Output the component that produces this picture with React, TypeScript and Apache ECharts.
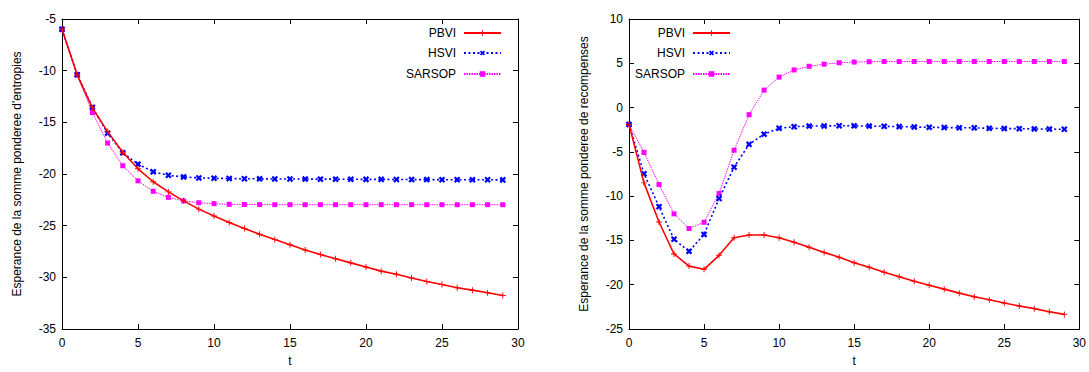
import React, { useEffect, useRef } from "react";
import * as echarts from "echarts";

const T = [0, 1, 2, 3, 4, 5, 6, 7, 8, 9, 10, 11, 12, 13, 14, 15, 16, 17, 18, 19, 20, 21, 22, 23, 24, 25, 26, 27, 28, 29];

// Left: entropies
const entPBVI = [-6, -10.4, -13.6, -15.9, -17.9, -19.5, -20.75, -21.73, -22.6, -23.4, -24.07, -24.7, -25.27, -25.84, -26.35, -26.85, -27.36, -27.8, -28.2, -28.6, -29.0, -29.4, -29.7, -30.07, -30.4, -30.7, -31.0, -31.24, -31.5, -31.75];
const entHSVI = [-6, -10.4, -13.55, -16.05, -17.95, -19.05, -19.78, -20.13, -20.28, -20.38, -20.41, -20.44, -20.46, -20.47, -20.48, -20.48, -20.49, -20.5, -20.5, -20.51, -20.52, -20.52, -20.53, -20.54, -20.54, -20.55, -20.55, -20.56, -20.56, -20.57];
const entSARSOP = [-6, -10.4, -14.06, -17.0, -19.2, -20.66, -21.67, -22.26, -22.6, -22.78, -22.87, -22.93, -22.95, -22.96, -22.97, -22.97, -22.97, -22.97, -22.97, -22.97, -22.97, -22.97, -22.97, -22.97, -22.97, -22.97, -22.97, -22.97, -22.97, -22.97];

// Right: rewards
const recPBVI = [-1.9, -8.5, -12.92, -16.53, -17.9, -18.26, -16.68, -14.69, -14.39, -14.39, -14.69, -15.2, -15.76, -16.35, -16.9, -17.52, -18.04, -18.6, -19.1, -19.6, -20.07, -20.5, -20.95, -21.36, -21.7, -22.06, -22.4, -22.7, -23.05, -23.35];
const recHSVI = [-1.9, -7.47, -11.19, -14.87, -16.23, -14.32, -10.27, -6.73, -4.15, -3.0, -2.34, -2.16, -2.09, -2.08, -2.05, -2.06, -2.09, -2.12, -2.15, -2.19, -2.23, -2.25, -2.28, -2.29, -2.34, -2.37, -2.38, -2.41, -2.43, -2.45];
const recSARSOP = [-1.9, -5.07, -8.68, -12.0, -13.65, -12.95, -9.71, -4.81, -0.8, 1.97, 3.44, 4.25, 4.66, 4.9, 5.06, 5.14, 5.18, 5.2, 5.2, 5.2, 5.2, 5.2, 5.2, 5.2, 5.2, 5.2, 5.2, 5.2, 5.2, 5.2];

const NAMES = ["PBVI", "HSVI", "SARSOP"];
const COLORS = ["#ff0000", "#0000ff", "#ff00ff"];

const PLUS = "path://M4.2,0H5.8V4.2H10V5.8H5.8V10H4.2V5.8H0V4.2H4.2Z";
const CROSS = "path://M3.4,0H6.6V3.4H10V6.6H6.6V10H3.4V6.6H0V3.4H3.4Z";

const FONT = "Liberation Sans, Arial, Helvetica, sans-serif";

function pairs(vals: number[]) {
  return T.map((t, i) => [t, vals[i]]);
}

function seriesFor(vals: number[][], xi: number, yi: number) {
  const styles = [
    { symbol: PLUS, symbolSize: 6, symbolRotate: 0, lineStyle: { color: COLORS[0], width: 1.6, type: "solid" } },
    { symbol: CROSS, symbolSize: 7, symbolRotate: 45, lineStyle: { color: COLORS[1], width: 1.6, type: [2, 2.5] } },
    { symbol: "rect", symbolSize: 5, symbolRotate: 0, lineStyle: { color: COLORS[2], width: 1, type: [1.5, 1] } },
  ];
  return vals.map((v, k) => ({
    type: "line",
    name: NAMES[k],
    xAxisIndex: xi,
    yAxisIndex: yi,
    data: pairs(v as any),
    symbol: styles[k].symbol,
    symbolSize: styles[k].symbolSize,
    symbolRotate: styles[k].symbolRotate,
    showAllSymbol: true,
    itemStyle: { color: COLORS[k] },
    lineStyle: styles[k].lineStyle,
    z: 10 - k,
  }));
}

export default function App() {
  const ref = useRef<HTMLDivElement>(null);
  useEffect(() => {
    if (!ref.current) return;
    const chart = echarts.init(ref.current, undefined, { renderer: "svg" });
    const axisLine = { show: true, onZero: false, lineStyle: { color: "#000", width: 1 } };
    const tick = { show: true, inside: true, length: 5, lineStyle: { color: "#000", width: 1 } };
    const label = { color: "#000", fontSize: 12, fontFamily: FONT };

    const mkX = (gi: number, pos: "bottom" | "top", withLabels: boolean) => ({
      type: "value",
      gridIndex: gi,
      position: pos,
      min: 0,
      max: 30,
      interval: 5,
      axisLine,
      axisTick: tick,
      axisLabel: { ...label, show: withLabels, margin: 8 },
      splitLine: { show: false },
      name: withLabels ? "t" : "",
      nameLocation: "middle",
      nameGap: 26,
      nameTextStyle: { color: "#000", fontSize: 12, fontFamily: FONT },
    });
    const mkY = (gi: number, pos: "left" | "right", min: number, max: number, name: string) => ({
      type: "value",
      gridIndex: gi,
      position: pos,
      min,
      max,
      interval: 5,
      axisLine,
      axisTick: tick,
      axisLabel: { ...label, show: pos === "left", margin: 6 },
      splitLine: { show: false },
      name,
      nameLocation: "middle",
      nameRotate: 90,
      nameGap: 39,
      nameTextStyle: { color: "#000", fontSize: 12, fontFamily: FONT },
    });

    const legendRows = [27, 47, 68];
    const legends: any[] = [];
    [587, 358].forEach((right) => {
      NAMES.forEach((n, k) => {
        legends.push({
          data: [n],
          right,
          top: legendRows[k],
          orient: "horizontal",
          align: "right",
          padding: 0,
          itemWidth: 37,
          itemHeight: 7,
          itemGap: 0,
          selectedMode: false,
          textStyle: { color: "#000", fontSize: 12, fontFamily: FONT, padding: [0, 3, 0, 0] },
        });
      });
    });

    chart.setOption({
      animation: false,
      backgroundColor: "#fff",
      textStyle: { fontFamily: FONT },
      grid: [
        { left: 62, top: 19, width: 456, height: 317 },
        { left: 629, top: 19, width: 456, height: 317 },
      ],
      xAxis: [mkX(0, "bottom", true), mkX(0, "top", false), mkX(1, "bottom", true), mkX(1, "top", false)],
      yAxis: [
        mkY(0, "left", -35, -5, "Esperance de la somme ponderee d'entropies"),
        mkY(0, "right", -35, -5, ""),
        mkY(1, "left", -25, 10, "Esperance de la somme ponderee de recompenses"),
        mkY(1, "right", -25, 10, ""),
      ],
      legend: legends,
      series: [
        ...seriesFor([entPBVI, entHSVI, entSARSOP] as any, 0, 0),
        ...seriesFor([recPBVI, recHSVI, recSARSOP] as any, 2, 2),
      ],
    });
    return () => chart.dispose();
  }, []);
  return (
    <div
      ref={ref}
      style={{ position: "fixed", left: 0, top: 0, width: 1089, height: 372, background: "#fff" }}
    />
  );
}
